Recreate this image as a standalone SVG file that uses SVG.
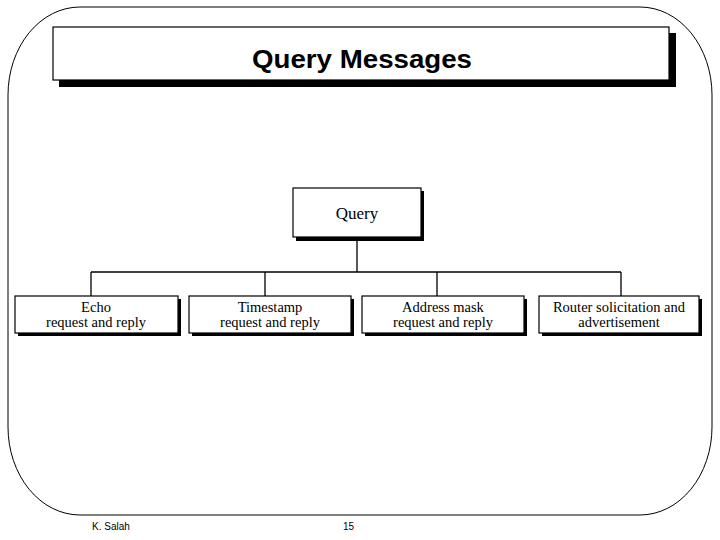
<svg xmlns="http://www.w3.org/2000/svg" width="720" height="540" viewBox="0 0 720 540">
<style>
.box{fill:#fff;stroke:#000;stroke-width:1.2}
.shadow{fill:#000}
.t{font-family:"Liberation Serif","Times New Roman",serif;font-size:14.5px;text-anchor:middle;fill:#000}
.c{fill:none;stroke:#000;stroke-width:1.3}
.f{font-family:"Liberation Sans",Arial,sans-serif;font-size:10px;fill:#000}
</style>
<rect width="720" height="540" fill="#fff"/>
<rect x="8" y="7" width="704" height="508" rx="72" ry="88" fill="none" stroke="#000" stroke-width="1"/>
<g id="title">
<rect x="59" y="33" width="617" height="54" class="shadow"/>
<rect x="53" y="27" width="616" height="53" class="box"/>
<text x="362" y="68" font-family="Liberation Sans,Arial,sans-serif" font-size="26" font-weight="bold" text-anchor="middle" textLength="220" lengthAdjust="spacingAndGlyphs">Query Messages</text>
</g>
<g id="connectors">
<path class="c" d="M357 237V272M91 272H621M91 272V296M265 272V296M437 272V296M621 272V296"/>
</g>
<g id="query">
<rect x="296" y="191" width="128" height="50" class="shadow"/>
<rect x="293" y="188" width="128" height="49" class="box"/>
<text x="357" y="219" class="t" style="font-size:17px">Query</text>
</g>
<g id="echo">
<rect x="18" y="299" width="163" height="37" class="shadow"/>
<rect x="15" y="296" width="163" height="37" class="box"/>
<text x="96" y="312" class="t">Echo</text>
<text x="96" y="327" class="t">request and reply</text>
</g>
<g id="timestamp">
<rect x="192" y="299" width="162" height="37" class="shadow"/>
<rect x="189" y="296" width="162" height="37" class="box"/>
<text x="270" y="312" class="t">Timestamp</text>
<text x="270" y="327" class="t">request and reply</text>
</g>
<g id="address">
<rect x="365" y="299" width="162" height="37" class="shadow"/>
<rect x="362" y="296" width="162" height="37" class="box"/>
<text x="443" y="312" class="t">Address mask</text>
<text x="443" y="327" class="t">request and reply</text>
</g>
<g id="router">
<rect x="542" y="299" width="160" height="37" class="shadow"/>
<rect x="539" y="296" width="160" height="37" class="box"/>
<text x="619" y="312" class="t">Router solicitation and</text>
<text x="619" y="327" class="t">advertisement</text>
</g>
<text x="92" y="530" class="f">K. Salah</text>
<text x="343" y="530" class="f">15</text>
</svg>
